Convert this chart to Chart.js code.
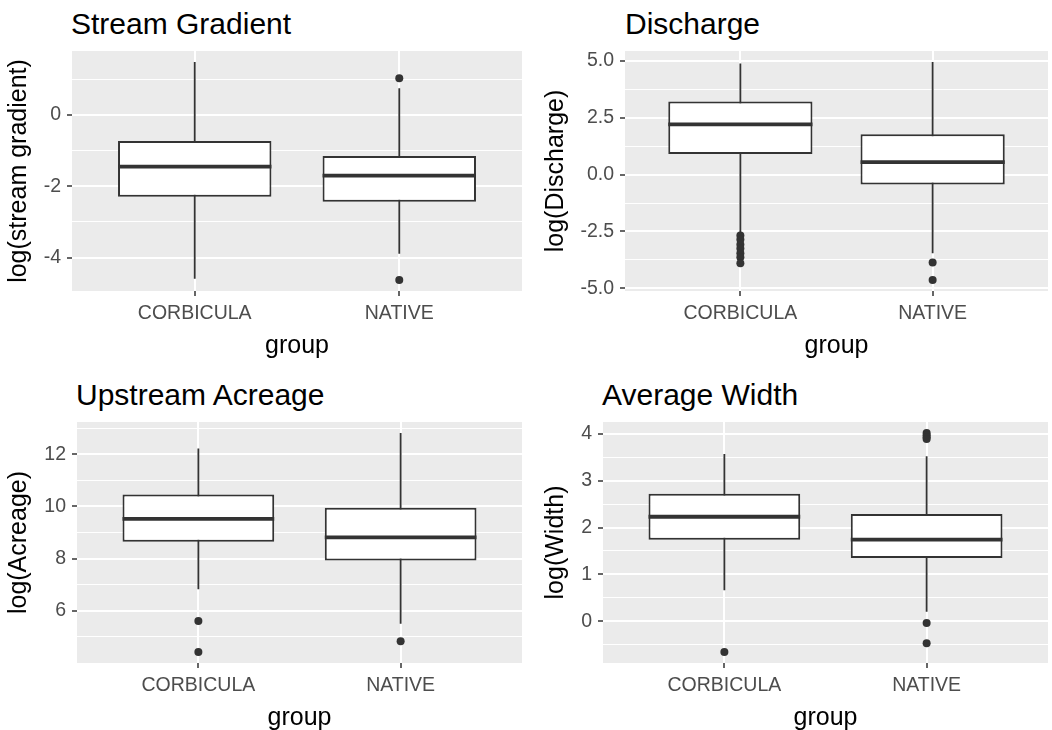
<!DOCTYPE html>
<html>
<head>
<meta charset="utf-8">
<script src="https://cdn.jsdelivr.net/npm/chart.js@4"></script>
<style>
  body { margin: 0; background: #fff; width: 1052px; height: 730px; overflow: hidden; position: relative;
         font-family: "Liberation Sans", Arial, sans-serif; }
  canvas { position: absolute; }
  .title { position: absolute; font-size: 30px; line-height: 30px; color: #000; white-space: nowrap; }
</style>
</head>
<body>
<div class="title" style="left:71px;top:9px">Stream Gradient</div>
<div class="title" style="left:625px;top:9px">Discharge</div>
<div class="title" style="left:76px;top:380px">Upstream Acreage</div>
<div class="title" style="left:602px;top:380px">Average Width</div>
<canvas id="c1" width="526" height="316" style="left:0;top:45px"></canvas>
<canvas id="c2" width="526" height="316" style="left:526px;top:45px"></canvas>
<canvas id="c3" width="526" height="318" style="left:0;top:415px"></canvas>
<canvas id="c4" width="526" height="318" style="left:526px;top:415px"></canvas>
<script>
const groups = ['CORBICULA', 'NATIVE'];

// Stream Gradient
const gradLow = [-4.59, -3.89];
const gradQ1 = [-2.29, -2.43];
const gradMedian = [-1.45, -1.70];
const gradQ3 = [-0.73, -1.15];
const gradHigh = [1.49, 0.75];
const gradOutliers = [[], [1.03, -4.63]];
const gradTicks = [-4, -2, 0];
const gradTickLabels = ['-4', '-2', '0'];
const gradMinor = [-3, -1, 1];

// Discharge
const disLow = [-2.52, -3.46];
const disQ1 = [0.91, -0.43];
const disMedian = [2.21, 0.55];
const disQ3 = [3.22, 1.78];
const disHigh = [4.89, 4.96];
const disOutliers = [[-2.68, -2.85, -3.07, -3.25, -3.46, -3.64, -3.9], [-3.87, -4.64]];
const disTicks = [-5, -2.5, 0, 2.5, 5];
const disTickLabels = ['-5.0', '-2.5', '0.0', '2.5', '5.0'];
const disMinor = [-3.75, -1.25, 1.25, 3.75];

// Upstream Acreage
const acrLow = [6.82, 5.50];
const acrQ1 = [8.64, 7.92];
const acrMedian = [9.52, 8.81];
const acrQ3 = [10.46, 9.95];
const acrHigh = [12.22, 12.82];
const acrOutliers = [[5.6, 4.41], [4.82]];
const acrTicks = [6, 8, 10, 12];
const acrTickLabels = ['6', '8', '10', '12'];
const acrMinor = [5, 7, 9, 11, 13];

// Average Width
const widLow = [0.66, 0.2];
const widQ1 = [1.74, 1.35];
const widMedian = [2.23, 1.74];
const widQ3 = [2.72, 2.29];
const widHigh = [3.57, 3.52];
const widOutliers = [[-0.66], [4.02, 3.97, 3.93, 3.89, -0.04, -0.47]];
const widTicks = [0, 1, 2, 3, 4];
const widTickLabels = ['0', '1', '2', '3', '4'];
const widMinor = [-0.5, 0.5, 1.5, 2.5, 3.5];

const BOX_WIDTH = 0.75;
const X_AXIS_HEIGHT = 70;

Chart.defaults.font.family = '"Liberation Sans", Arial, sans-serif';

const panelBg = {
  id: 'panelBg',
  beforeDraw(chart) {
    const {ctx, chartArea: a} = chart;
    ctx.save();
    ctx.fillStyle = '#EBEBEB';
    ctx.fillRect(a.left, a.top, a.right - a.left, a.bottom - a.top);
    ctx.restore();
  }
};

function yRange(p) {
  const all = [...p.low, ...p.high, ...p.outliers.flat()];
  const lo = Math.min(...all), hi = Math.max(...all);
  const pad = (hi - lo) * 0.05;
  return [lo - pad, hi + pad];
}

function makeChart(p, geo) {
  const [ymin, ymax] = yRange(p);
  let whiskers = [], medians = [], boxes = [], points = [];
  groups.forEach((g, i) => {
    const x = i + 1;
    whiskers.push({x: x, y: p.low[i]}, {x: x, y: p.high[i]}, {x: x, y: null});
    medians.push({x: x - BOX_WIDTH / 2, y: p.median[i]}, {x: x + BOX_WIDTH / 2, y: p.median[i]}, {x: x, y: null});
    boxes.push({x: x, y: [p.q1[i], p.q3[i]]});
    p.outliers[i].forEach(v => points.push({x: x, y: v}));
  });
  const yTicks = p.ticks.map(v => ({value: v}))
    .concat(p.minor.map(v => ({value: v, minor: true})))
    .sort((a, b) => a.value - b.value);

  new Chart(document.getElementById(geo.id), {
    type: 'bar',
    data: {
      datasets: [
        {type: 'line', data: whiskers, borderColor: '#333', borderWidth: 1.8, pointRadius: 0, order: 3},
        {type: 'bar', data: boxes, backgroundColor: '#fff', borderColor: '#333', borderWidth: 2,
         borderSkipped: false, barPercentage: BOX_WIDTH, categoryPercentage: 1, order: 2},
        {type: 'line', data: medians, borderColor: '#333', borderWidth: 3.8, pointRadius: 0, order: 1},
        {type: 'scatter', data: points, backgroundColor: '#333', borderWidth: 0, pointRadius: 4, order: 0}
      ]
    },
    options: {
      responsive: false,
      animation: false,
      events: [],
      layout: {padding: geo.pad},
      plugins: {legend: {display: false}, tooltip: {enabled: false}},
      scales: {
        x: {
          type: 'linear', min: 0.4, max: 2.6, offset: false,
          afterBuildTicks: s => { s.ticks = groups.map((g, i) => ({value: i + 1})); },
          afterFit: s => { s.height = X_AXIS_HEIGHT; s.paddingLeft = 0; s.paddingRight = 0; },
          grid: {offset: false, color: '#fff', lineWidth: 2, tickLength: 5, tickColor: '#333', tickWidth: 1.5},
          border: {display: false},
          ticks: {callback: v => groups[v - 1], color: '#4D4D4D', font: {size: 19.5}, padding: 6,
                  maxRotation: 0, autoSkip: false},
          title: {display: true, text: 'group', color: '#000', font: {size: 25}, padding: {top: 0, bottom: 0}}
        },
        y: {
          type: 'linear', min: ymin, max: ymax,
          afterBuildTicks: s => { s.ticks = yTicks.map(t => Object.assign({}, t)); },
          afterFit: s => { s.width = geo.yWidth; s.paddingTop = 0; s.paddingBottom = 0; },
          grid: {
            color: '#fff',
            lineWidth: c => (c.tick && c.tick.minor) ? 1 : 2,
            tickLength: 5,
            tickColor: c => (c.tick && c.tick.minor) ? 'rgba(0,0,0,0)' : '#333',
            tickWidth: 1.5
          },
          border: {display: false},
          ticks: {
            callback: (v, i, t) => t[i].minor ? '' : p.labels[p.ticks.indexOf(v)],
            color: '#4D4D4D', font: {size: 19.5}, padding: 6, autoSkip: false
          },
          title: {display: true, text: p.yTitle, color: '#000', font: {size: 25},
                  padding: {top: geo.yTitlePad, bottom: 0}}
        }
      }
    },
    plugins: [panelBg]
  });
}

makeChart(
  {low: gradLow, q1: gradQ1, median: gradMedian, q3: gradQ3, high: gradHigh, outliers: gradOutliers,
   ticks: gradTicks, labels: gradTickLabels, minor: gradMinor, yTitle: 'log(stream gradient)'},
  {id: 'c1', pad: {top: 6, right: 4, left: 0, bottom: 0}, yWidth: 72, yTitlePad: 4});
makeChart(
  {low: disLow, q1: disQ1, median: disMedian, q3: disQ3, high: disHigh, outliers: disOutliers,
   ticks: disTicks, labels: disTickLabels, minor: disMinor, yTitle: 'log(Discharge)'},
  {id: 'c2', pad: {top: 6, right: 0, left: 0, bottom: 0}, yWidth: 99, yTitlePad: 15});
makeChart(
  {low: acrLow, q1: acrQ1, median: acrMedian, q3: acrQ3, high: acrHigh, outliers: acrOutliers,
   ticks: acrTicks, labels: acrTickLabels, minor: acrMinor, yTitle: 'log(Acreage)'},
  {id: 'c3', pad: {top: 7, right: 3, left: 0, bottom: 0}, yWidth: 77, yTitlePad: 4});
makeChart(
  {low: widLow, q1: widQ1, median: widMedian, q3: widQ3, high: widHigh, outliers: widOutliers,
   ticks: widTicks, labels: widTickLabels, minor: widMinor, yTitle: 'log(Width)'},
  {id: 'c4', pad: {top: 7, right: 0, left: 0, bottom: 0}, yWidth: 77, yTitlePad: 15});
</script>
</body>
</html>
